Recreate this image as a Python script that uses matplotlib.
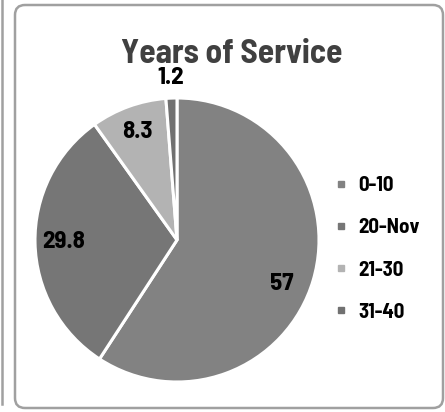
import matplotlib
matplotlib.use("Agg")
import matplotlib.pyplot as plt
from matplotlib.patches import FancyBboxPatch
from matplotlib.lines import Line2D
import numpy as np

categories = ["0-10", "20-Nov", "21-30", "31-40"]
values = [57, 29.8, 8.3, 1.2]
value_labels = ["57", "29.8", "8.3", "1.2"]
title = "Years of Service"

colors = ["#828282", "#767676", "#b3b3b3", "#717171"]
label_r = [0.80, 0.80, 0.81, 1.14]
label_dtheta = [-6.3, 0, 0, 0]
FONT = ["Barlow Semi Condensed", "Liberation Sans", "DejaVu Sans"]

W, H = 445, 412
fig = plt.figure(figsize=(W / 100, H / 100), dpi=100)

# panel borders (figure pixel coords)
bg = fig.add_axes([0, 0, 1, 1])
bg.set_xlim(0, W)
bg.set_ylim(H, 0)
bg.axis("off")
bg.add_patch(FancyBboxPatch((15 + 10, 5 + 10), 428 - 20, 403 - 20,
                            boxstyle="round,pad=10", fc="white", ec="#a0a0a0", lw=1.8))
bg.add_line(Line2D([1.5, 1.5], [0, 404], color="#a0a0a0", lw=1.8))

# pie axes: centre (177,240), radius 142
cx, cy, r = 177, 240, 142
ax = fig.add_axes([(cx - r) / W, 1 - (cy + r) / H, 2 * r / W, 2 * r / H])
wedges, _ = ax.pie(values, colors=colors, startangle=90, counterclock=False,
                   wedgeprops=dict(edgecolor="white", linewidth=2.2))
ax.set_xlim(-1, 1)
ax.set_ylim(-1, 1)
ax.set_aspect("equal")

for w, lab, rr, dt in zip(wedges, value_labels, label_r, label_dtheta):
    ang = np.deg2rad((w.theta1 + w.theta2) / 2 + dt)
    ax.text(rr * np.cos(ang), rr * np.sin(ang), lab, ha="center", va="center",
            fontsize=18, fontweight="bold", color="black", family=FONT, clip_on=False)

fig.text(231.5 / W, 1 - 63 / H, title, ha="center", va="baseline", fontsize=24,
         fontweight="bold", color="#404040", family=FONT)

handles = [plt.Line2D([], [], marker="s", linestyle="none", markersize=5,
                      markerfacecolor=c, markeredgecolor=c) for c in colors]
leg = fig.legend(handles, categories, loc="center left",
                 bbox_to_anchor=(335 / W, 1 - 249 / H), frameon=False,
                 borderpad=0, borderaxespad=0,
                 handlelength=0.6, handletextpad=0.5, labelspacing=1.11,
                 prop=dict(family=FONT, weight="bold", size=15))

fig.savefig("out.png", dpi=100)
